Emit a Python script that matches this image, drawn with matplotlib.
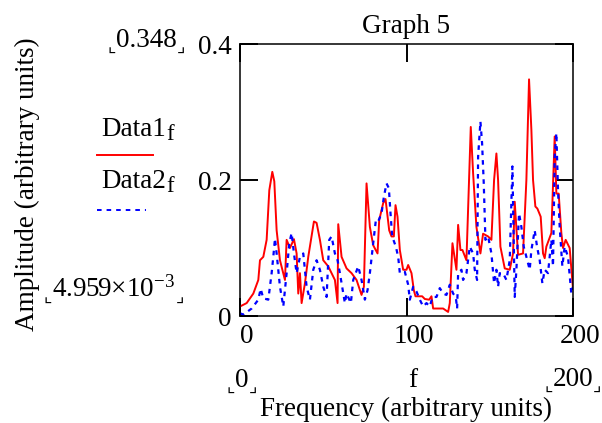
import matplotlib
matplotlib.use("Agg")
import matplotlib.pyplot as plt
from matplotlib.transforms import ScaledTranslation

plt.rcParams['font.family'] = ['Liberation Serif', 'DejaVu Sans']
plt.rcParams['mathtext.fontset'] = 'custom'
plt.rcParams['mathtext.rm'] = 'Liberation Serif'
plt.rcParams['mathtext.it'] = 'Liberation Serif:italic'
plt.rcParams['lines.scale_dashes'] = False

# ---- data ----
freq1 = [0, 4, 8, 11, 12, 14, 16, 17.6, 19.4, 20.6, 22, 24, 27, 28, 30, 32.4, 34, 35, 36, 37,
         39, 41, 44.4, 46, 48, 50, 53, 57, 58.6, 59, 61, 64, 67, 70, 73, 74.4, 76, 78, 80, 82.6,
         83.6, 86, 87.4, 89.6, 91, 92.4, 93.4, 94.6, 96, 98, 100, 101, 103, 104.4, 105.4, 109.4,
         111, 113.6, 115, 116, 122, 125, 126, 127.6, 130, 131, 132.4, 133.6, 136, 138.6, 140, 142,
         144.4, 146, 149, 151, 152.6, 154, 155, 156.4, 159, 162, 164, 165, 167, 170, 172, 173.6,
         175, 176, 177.4, 178.6, 180.6, 182, 183, 184, 187, 189, 190, 191.4, 193, 194, 195.6, 198, 200]
data1 = [0.014, 0.019, 0.033, 0.053, 0.082, 0.087, 0.112, 0.185, 0.212, 0.198, 0.126, 0.082, 0.053,
         0.112, 0.100, 0.113, 0.092, 0.033, 0.063, 0.019, 0.048, 0.087, 0.139, 0.137, 0.112, 0.082,
         0.073, 0.053, 0.019, 0.135, 0.087, 0.070, 0.063, 0.053, 0.031, 0.043, 0.195, 0.131, 0.104,
         0.092, 0.141, 0.166, 0.172, 0.126, 0.117, 0.117, 0.163, 0.146, 0.097, 0.068, 0.068, 0.075,
         0.063, 0.038, 0.029, 0.029, 0.025, 0.024, 0.029, 0.011, 0.011, 0.006, 0.019, 0.107, 0.068,
         0.134, 0.097, 0.097, 0.082, 0.278, 0.210, 0.131, 0.092, 0.121, 0.117, 0.112, 0.200, 0.239,
         0.200, 0.102, 0.070, 0.068, 0.092, 0.168, 0.090, 0.092, 0.200, 0.348, 0.274, 0.200, 0.161,
         0.158, 0.146, 0.092, 0.085, 0.102, 0.122, 0.264, 0.180, 0.180, 0.122, 0.100, 0.112, 0.100, 0.040]

freq2 = [0, 2, 7, 11, 12.4, 14, 17, 19, 20, 21, 22, 24, 26, 28, 29.6, 31, 32.4, 34, 36, 38, 40, 42,
         44, 46, 48, 50, 52, 53.6, 55, 57, 58.6, 60, 63, 64, 66.6, 68, 71, 73, 75, 76.6, 78, 80,
         81.6, 83, 85, 86.4, 88, 89.4, 90.4, 91.4, 93.6, 95, 96, 99, 101, 102, 104, 106, 108, 110,
         112, 114, 115.6, 118, 120, 122, 124, 126, 128, 129.6, 130.4, 131, 133, 134, 136, 138, 140,
         141, 142.4, 143, 144.4, 145.4, 146.4, 147.4, 149, 151, 152.6, 154, 155, 156, 158, 160, 162,
         163.6, 165, 166, 167.6, 169, 170.4, 172, 174, 175, 177, 178.4, 180, 181.6, 183, 185, 187,
         188, 189, 190, 191, 192, 193.6, 195, 197, 199, 200]
data2 = [0.004, 0.002, 0.011, 0.024, 0.040, 0.026, 0.024, 0.063, 0.087, 0.114, 0.092, 0.043, 0.014,
         0.063, 0.107, 0.122, 0.092, 0.063, 0.087, 0.092, 0.043, 0.024, 0.068, 0.082, 0.068, 0.043,
         0.028, 0.112, 0.117, 0.092, 0.082, 0.063, 0.019, 0.033, 0.019, 0.053, 0.073, 0.053, 0.024,
         0.038, 0.063, 0.107, 0.141, 0.139, 0.151, 0.175, 0.195, 0.188, 0.151, 0.117, 0.102, 0.087,
         0.063, 0.065, 0.046, 0.024, 0.043, 0.036, 0.024, 0.014, 0.019, 0.014, 0.028, 0.028, 0.041,
         0.033, 0.031, 0.046, 0.033, 0.028, 0.011, 0.063, 0.068, 0.053, 0.063, 0.102, 0.092, 0.068,
         0.053, 0.234, 0.286, 0.254, 0.195, 0.112, 0.117, 0.092, 0.048, 0.068, 0.043, 0.063, 0.063,
         0.053, 0.082, 0.220, 0.028, 0.068, 0.151, 0.131, 0.102, 0.087, 0.068, 0.097, 0.126, 0.102,
         0.082, 0.048, 0.068, 0.063, 0.112, 0.073, 0.234, 0.269, 0.185, 0.131, 0.073, 0.102, 0.087,
         0.033, 0.043]

xticks = [0, 100, 200]
xticklabels = ["0", "100", "200"]
yticks = [0, 0.2, 0.4]
yticklabels = ["0", "0.2", "0.4"]

W, H = 602, 423
fig = plt.figure(figsize=(W / 100, H / 100), dpi=100)
ax = fig.add_axes([240 / W, 1 - 316 / H, (573 - 240) / W, (316 - 44) / H])

FS = 19.5
ax.plot(freq1, data1, color='#ff0000', lw=1.4)
ax.plot(freq2, data2, color='#0000ff', lw=1.6, dashes=(3.3, 3.6))

ax.set_xlim(0, 200)
ax.set_ylim(0, 0.4)
ax.set_xticks(xticks)
ax.set_xticklabels(xticklabels, fontsize=FS)
ax.set_yticks(yticks)
ax.set_yticklabels(yticklabels, fontsize=FS)
ax.tick_params(direction='in', length=13, width=1.4, top=True, right=True, color='black')
ax.tick_params(axis='y', pad=6)
ax.tick_params(axis='x', pad=6)
for s in ax.spines.values():
    s.set_linewidth(1.1)
for lab in ax.get_xticklabels():
    lab.set_transform(lab.get_transform() + ScaledTranslation(7 / 100, 0, fig.dpi_scale_trans))

ax.set_title("Graph 5", fontsize=FS, pad=8)


def px(x, y):
    return x / W, 1 - y / H


def bracketed(x, y, s):
    t = fig.text(*px(x, y), s, fontsize=FS, ha='center', va='baseline')
    kw = dict(family=['DejaVu Sans'], fontsize=13, color='black', va='baseline',
              annotation_clip=False)
    ax.annotate("\u231e", xy=(0, 0), xycoords=t, xytext=(0, 0.5),
                textcoords='offset points', ha='right', **kw)
    ax.annotate("\u231f", xy=(1, 0), xycoords=t, xytext=(0, 0.5),
                textcoords='offset points', ha='left', **kw)
    return t


# axis labels
fig.text(*px(406, 409), "Frequency (arbitrary units)", fontsize=FS, ha='center', va='center')
fig.text(*px(27, 184), "Amplitude (arbitrary units)", fontsize=FS, ha='center', va='center',
         rotation=90)

# Mathcad limit annotations
bracketed(146, 47, "0.348")
bracketed(114, 297, "4.959\u00d710$^{-3}$")
bracketed(242, 387, "0")
fig.text(*px(413, 387), "f", fontsize=FS, ha='center', va='baseline')
bracketed(573, 386, "200")

# legend
fig.text(*px(101, 136), "Data1", fontsize=FS, ha='left', va='baseline')
fig.text(*px(166, 140), "f", fontsize=FS * 0.85, ha='left', va='baseline')
fig.add_artist(plt.Line2D([97 / W, 153 / W], [1 - 155 / H, 1 - 155 / H], color='#ff0000', lw=1.4))
fig.text(*px(101, 188), "Data2", fontsize=FS, ha='left', va='baseline')
fig.text(*px(166, 192), "f", fontsize=FS * 0.85, ha='left', va='baseline')
fig.add_artist(plt.Line2D([97 / W, 146 / W], [1 - 210 / H, 1 - 210 / H], color='#0000ff', lw=1.4,
                          dashes=(3.3, 3.6)))

fig.savefig("out.png", dpi=100)
